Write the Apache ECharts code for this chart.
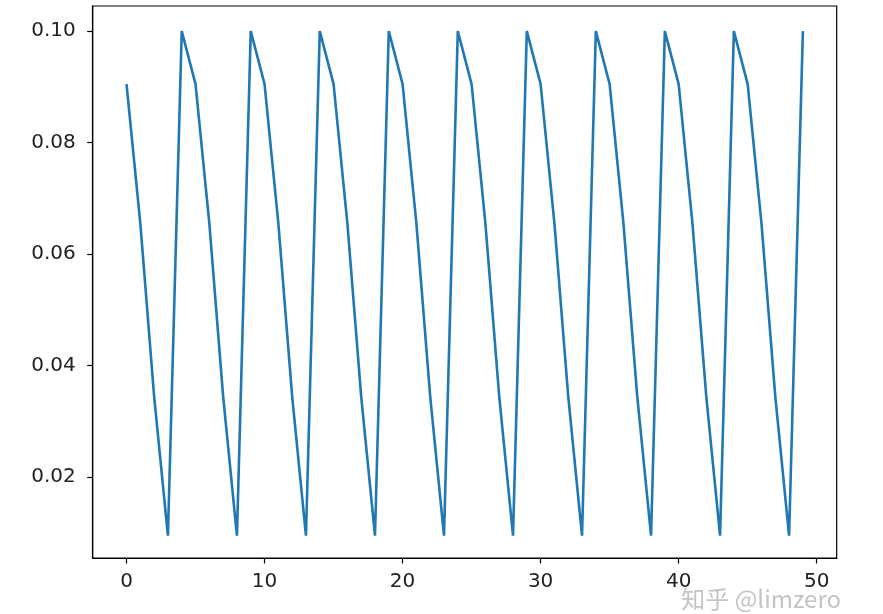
<!DOCTYPE html>
<html>
<head>
<meta charset="utf-8">
<script src="https://cdn.jsdelivr.net/npm/echarts@6/dist/echarts.min.js"></script>
<style>
html,body{margin:0;padding:0;background:#fff;}
#chart{width:883px;height:614px;}
</style>
</head>
<body>
<div id="chart"></div>
<script>
// Epoch indices and learning-rate values
const epochs = [0,1,2,3,4,5,6,7,8,9,10,11,12,13,14,15,16,17,18,19,20,21,22,23,24,25,26,27,28,29,30,31,32,33,34,35,36,37,38,39,40,41,42,43,44,45,46,47,48,49];
const lrValues = [
  0.0905,0.0655,0.0345,0.0095,0.1,
  0.0905,0.0655,0.0345,0.0095,0.1,
  0.0905,0.0655,0.0345,0.0095,0.1,
  0.0905,0.0655,0.0345,0.0095,0.1,
  0.0905,0.0655,0.0345,0.0095,0.1,
  0.0905,0.0655,0.0345,0.0095,0.1,
  0.0905,0.0655,0.0345,0.0095,0.1,
  0.0905,0.0655,0.0345,0.0095,0.1,
  0.0905,0.0655,0.0345,0.0095,0.1,
  0.0905,0.0655,0.0345,0.0095,0.1
];
const xTicks = [0,10,20,30,40,50];
const yTicks = [0.02,0.04,0.06,0.08,0.10];
const watermark = '知乎 @limzero';

const seriesData = epochs.map((e,i)=>[e, lrValues[i]]);
const font = 'DejaVu Sans';
const chart = echarts.init(document.getElementById('chart'), null, {renderer:'canvas'});
chart.setOption({
  animation:false,
  backgroundColor:'#fff',
  grid:{left:92.7, top:6, right:46.3, bottom:56, show:true, borderColor:'#000', borderWidth:1.2, backgroundColor:'transparent'},
  xAxis:{
    type:'value', min:-2.45, max:51.45,
    axisLine:{show:true, onZero:false, lineStyle:{color:'#000', width:1.2}},
    axisTick:{show:true, customValues:xTicks, length:5.5, lineStyle:{color:'#000', width:1.2}},
    axisLabel:{customValues:xTicks, color:'#222', fontFamily:font, fontSize:20, margin:14},
    splitLine:{show:false}
  },
  yAxis:{
    type:'value', min:0.0055, max:0.1045,
    axisLine:{show:true, onZero:false, lineStyle:{color:'#000', width:1.2}},
    axisTick:{show:true, customValues:yTicks, length:5.5, lineStyle:{color:'#000', width:1.2}},
    axisLabel:{customValues:yTicks, color:'#222', fontFamily:font, fontSize:20, margin:17,
      formatter:v=>v.toFixed(2)},
    splitLine:{show:false}
  },
  series:[{
    type:'line', data:seriesData, showSymbol:false, symbol:'none',
    lineStyle:{color:'#1f77b4', width:2.6}
  }],
  graphic:[{
    type:'text', right:42, bottom:3,
    style:{text:watermark, fill:'rgba(190,190,190,0.9)', font:'24px "Noto Sans CJK SC", sans-serif'}
  }]
});
</script>
</body>
</html>
